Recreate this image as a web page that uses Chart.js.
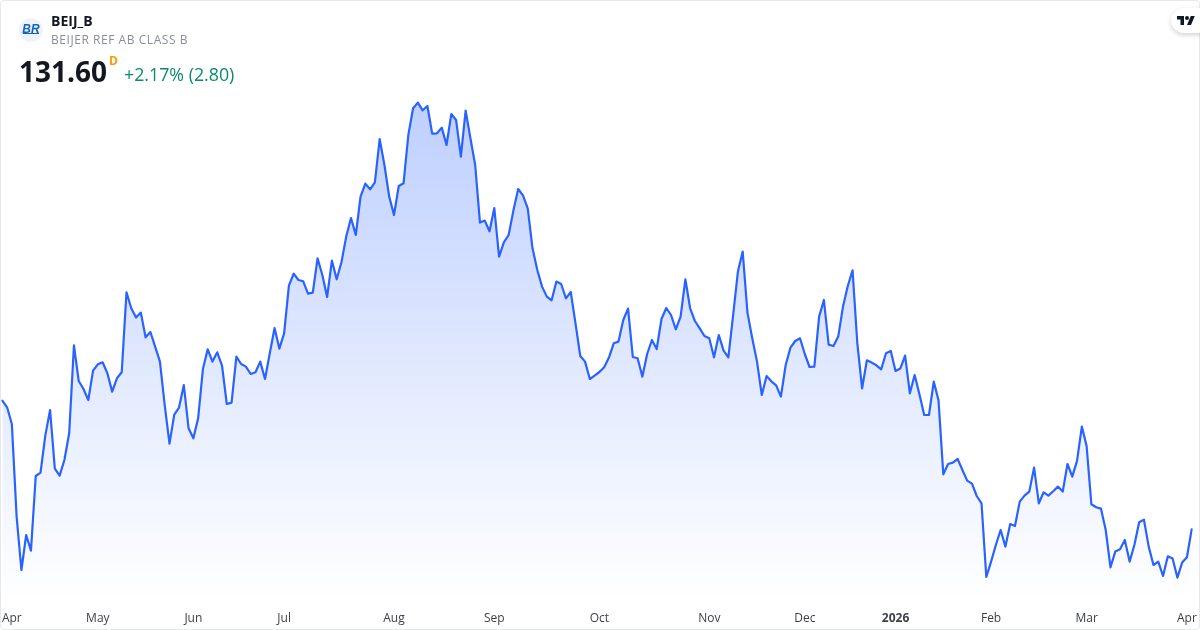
<!DOCTYPE html>
<html>
<head>
<meta charset="utf-8">
<title>BEIJ_B</title>
<script src="https://cdn.jsdelivr.net/npm/chart.js@4/dist/chart.umd.min.js"></script>
<style>
  html, body { margin: 0; padding: 0; background: #fff; }
  #card { position: relative; width: 1200px; height: 630px; overflow: hidden; font-family: "Open Sans", sans-serif; }
  #card canvas { position: absolute; left: 0; top: 0; }
  #frame { position: absolute; left: 0; top: 0; width: 1198px; height: 628px; border: 1px solid #e6e8ee; border-radius: 4px; pointer-events: none; }
  .txt { position: absolute; white-space: nowrap; line-height: 1; }
  #logo { position: absolute; left: 19px; top: 18px; width: 24px; height: 24px; border-radius: 50%; background: #eef2fa; }
  #logo span { position: absolute; left: 0; width: 24px; top: 4px; text-align: center; font: italic bold 12px "Liberation Sans", sans-serif; color: #1266b5; }
  #logo i { position: absolute; left: 4px; top: 15px; width: 16px; height: 1px; background: #1266b5; }
  #tv { position: absolute; left: 1171px; top: 8px; width: 40px; height: 25px; border-radius: 13px; background: #fff; box-shadow: 0 2px 5px rgba(0,0,0,.18); }
  #tv svg { position: absolute; left: 5.5px; top: 6px; }
</style>
</head>
<body>
<div id="card">
  <canvas id="grafico" width="1200" height="630"></canvas>
  <div id="frame"></div>
  <div id="logo"><span>BR</span><i></i></div>
  <div class="txt" style="left:51px;top:14px;font-size:14px;font-weight:700;color:#131722">BEIJ_B</div>
  <div class="txt" style="left:51px;top:34px;font-size:12px;color:#8a8e99;letter-spacing:.55px">BEIJER REF AB CLASS B</div>
  <div class="txt" style="left:19px;top:57px;font-size:28px;font-weight:700;color:#131722">131.60</div>
  <div class="txt" style="left:109px;top:55px;font-size:12px;font-weight:700;color:#ff9800">D</div>
  <div class="txt" style="left:124px;top:66px;font-size:17.8px;color:#0b8a6f">+2.17% (2.80)</div>
  <div id="tv">
    <svg width="18" height="14" viewBox="0 0 36 28"><path d="M14 22H7V11H0V4h14v18zM28 22h-8l7.5-18h8L28 22z" fill="#131722"/><circle cx="20" cy="8" r="4" fill="#131722"/></svg>
  </div>
</div>
<script>
// Fechamentos (250 pregoes, abr/2025 a abr/2026)
const closes = [
  144.47,143.80,142.13,132.87,127.53,131.03,129.47,136.93,137.27,140.97,
  143.53,137.67,136.97,138.53,141.20,150.00,146.43,145.63,144.53,147.47,
  148.10,148.30,147.20,145.37,146.70,147.30,155.30,153.70,152.77,153.27,
  150.80,151.33,149.87,148.37,144.03,140.17,143.07,143.77,146.03,141.70,
  140.70,142.70,147.63,149.60,148.37,149.30,147.97,144.13,144.27,148.87,
  148.13,147.87,147.13,147.30,148.37,146.63,149.20,151.73,149.67,151.20,
  155.97,157.17,156.53,156.40,155.17,155.27,158.70,157.03,154.83,158.47,
  156.60,158.30,160.87,162.73,161.03,164.87,166.17,165.60,166.30,170.63,
  168.03,164.87,163.03,165.93,166.20,171.03,173.70,174.27,173.50,173.93,
  171.17,171.20,171.77,170.03,173.13,172.53,168.87,173.47,170.70,168.03,
  162.27,162.47,161.40,163.73,158.87,160.30,161.03,163.47,165.63,165.00,
  163.70,159.70,157.53,155.87,154.87,154.50,156.37,156.13,154.70,155.33,
  152.20,148.93,148.37,146.63,146.97,147.33,147.80,148.77,150.20,150.37,
  152.53,153.67,148.83,148.70,146.87,149.13,150.53,149.63,152.63,153.73,
  153.03,151.60,152.87,156.60,153.70,152.43,151.70,150.93,150.70,148.80,
  151.03,149.47,148.80,153.03,157.37,159.37,153.27,150.70,148.37,145.03,
  146.93,146.40,146.00,144.87,148.03,149.77,150.43,150.70,149.13,147.83,
  147.87,152.87,154.53,150.07,149.93,150.87,153.87,155.93,157.50,150.20,
  145.70,148.50,148.27,148.00,147.60,149.20,149.43,147.43,147.67,148.97,
  145.20,147.03,145.10,143.03,143.03,146.37,144.47,137.10,138.13,138.27,
  138.63,137.53,136.47,136.17,134.93,134.20,126.83,128.37,130.03,131.53,
  129.87,132.13,131.93,134.37,134.97,135.37,137.77,134.20,135.30,134.97,
  135.40,135.87,135.37,138.13,136.87,138.47,141.87,139.93,134.10,133.80,
  133.67,131.53,127.80,129.37,129.60,130.53,128.37,130.03,132.30,132.57,
  129.87,128.03,128.37,126.93,128.90,128.67,126.77,128.27,128.80,131.60
];

// Meses no eixo X e o pregao onde cada um aparece
const tickLabels = ['Apr', 'May', 'Jun', 'Jul', 'Aug', 'Sep', 'Oct', 'Nov', 'Dec', '2026', 'Feb', 'Mar', 'Apr'];
const tickIndex = [2, 20, 40, 59, 82, 103, 125, 148, 168, 187, 207, 227, 248];

const categories = closes.map(function(_, i) {
    const k = tickIndex.indexOf(i);
    return k < 0 ? '' : tickLabels[k];
});

const ctx = document.getElementById('grafico').getContext('2d');

new Chart(ctx, {
    type: 'line',
    data: {
        labels: categories,
        datasets: [{
            data: closes,
            borderColor: '#2962ff',
            borderWidth: 2.2,
            borderJoinStyle: 'round',
            borderCapStyle: 'round',
            pointRadius: 0,
            tension: 0,
            fill: 'start',
            // Gradiente azul que some em direcao a base
            backgroundColor: function(context) {
                const area = context.chart.chartArea;
                if (!area) return 'rgba(41, 98, 255, 0.1)';
                const g = context.chart.ctx.createLinearGradient(0, 100, 0, area.bottom);
                g.addColorStop(0, 'rgba(41, 98, 255, 0.3)');
                g.addColorStop(1, 'rgba(41, 98, 255, 0)');
                return g;
            }
        }]
    },
    options: {
        responsive: false,
        animation: false,
        layout: { padding: { left: 2.3, right: 8.3, top: 60, bottom: 0 } },
        plugins: { legend: { display: false }, tooltip: { enabled: false } },
        scales: {
            x: {
                offset: false,
                border: { display: false },
                grid: { display: false, drawTicks: false },
                // Sem folga extra para os rotulos das pontas
                afterFit: function(scale) {
                    scale.height = 30;
                    scale.paddingLeft = 0;
                    scale.paddingRight = 0;
                },
                ticks: {
                    autoSkip: false,
                    maxRotation: 0,
                    padding: 11,
                    color: '#3c3f47',
                    font: function(c) {
                        return c.tick && c.tick.label === '2026'
                            ? { family: 'Open Sans', size: 12, weight: 'bold' }
                            : { family: 'Open Sans', size: 12 };
                    }
                }
            },
            y: { display: false, min: 124.53, max: 178.53 }
        }
    }
});
</script>
</body>
</html>
